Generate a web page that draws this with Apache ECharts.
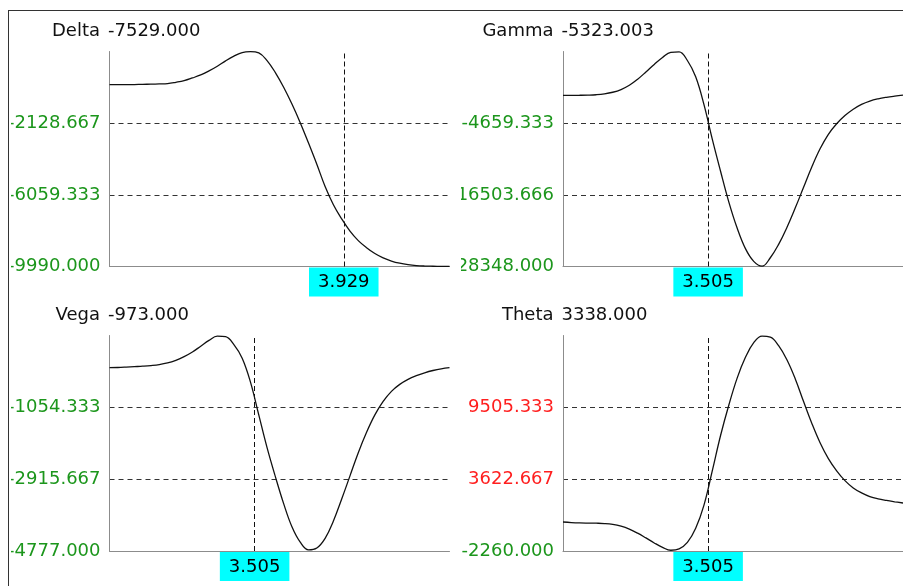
<!DOCTYPE html>
<html>
<head>
<meta charset="utf-8">
<script src="https://cdn.jsdelivr.net/npm/echarts@6/dist/echarts.min.js"></script>
<style>
  html, body { margin: 0; padding: 0; background: #fff; }
  #frame { position: absolute; left: 8px; top: 10px; width: 895px; height: 576px;
           border-top: 1px solid #333; border-left: 1px solid #333; }
  .panel { position: absolute; }
</style>
</head>
<body>
<div id="frame"></div>
<div id="p0" class="panel" style="left:11px;top:11px;width:448px;height:287px"></div>
<div id="p1" class="panel" style="left:461px;top:11px;width:442px;height:287px"></div>
<div id="p2" class="panel" style="left:11px;top:298px;width:448px;height:288px"></div>
<div id="p3" class="panel" style="left:461px;top:298px;width:442px;height:288px"></div>
<script>
// Underlying price grid shared by all four greek curves
const xs = [2.80, 2.84, 2.88, 2.92, 2.96, 3.00, 3.04, 3.08, 3.12, 3.16, 3.20, 3.24, 3.28, 3.32,
            3.36, 3.40, 3.44, 3.48, 3.52, 3.56, 3.60, 3.64, 3.68, 3.72, 3.76, 3.80, 3.84, 3.88,
            3.92, 3.96, 4.00, 4.04, 4.08, 4.12, 4.16, 4.20, 4.24, 4.28, 4.32, 4.36, 4.40, 4.44];

const deltaValues = [-16, -16, -16, -10, 0, 10, 22, 40, 112, 204, 351, 516, 737, 994,
                     1288, 1545, 1747, 1795, 1729, 1306, 645, -160, -1080, -2100, -3220, -4380, -5600, -6600,
                     -7380, -8050, -8570, -8960, -9280, -9520, -9690, -9810, -9890, -9940, -9965, -9975, -9980, -9982];

const gammaValues = [-60, -55, -45, -20, 40, 180, 450, 900, 1600, 2600, 3800, 5050, 6200, 7050,
                     7120, 5700, 3000, -1600, -7300, -12600, -17700, -22000, -25400, -27500, -28300, -26900, -24700, -21900,
                     -18700, -15300, -11900, -8900, -6500, -4750, -3400, -2350, -1550, -1000, -640, -390, -200, -40];

const vegaValues = [-27, -22, -12, 0, 12, 28, 52, 95, 165, 260, 380, 530, 680, 790,
                    775, 569, 220, -400, -1250, -2100, -2850, -3550, -4150, -4550, -4750, -4700, -4450, -4000,
                    -3430, -2830, -2230, -1700, -1250, -900, -640, -460, -330, -235, -160, -100, -55, -25];

const thetaValues = [115, 70, 40, 25, 15, -10, -80, -230, -470, -800, -1190, -1600, -1960, -2200,
                     -2090, -1560, -400, 1500, 4300, 7200, 9700, 11900, 13600, 14800, 15330, 15250, 14550, 13400,
                     11850, 10000, 8200, 6600, 5300, 4300, 3500, 2900, 2500, 2200, 2010, 1880, 1770, 1670];

const greekNames = ['Delta', 'Gamma', 'Vega', 'Theta'];
const readouts = ['-7529.000', '-5323.003', '-973.000', '3338.000'];
const cursorX = [3.929, 3.505, 3.505, 3.505];
const cursorLabels = ['3.929', '3.505', '3.505', '3.505'];
const axisMin = [-9990, -28348, -4777, -2260];
const axisMax = [1802, 7185.001, 807, 15388];
const seriesValues = [deltaValues, gammaValues, vegaValues, thetaValues];

// Plot-area placement inside each panel container
const layouts = [
  { gl: 98.5, gt: 40.5, gh: 215 },
  { gl: 102,  gt: 40.5, gh: 215 },
  { gl: 98.5, gt: 37.5, gh: 215.5 },
  { gl: 102,  gt: 37.5, gh: 215.5 }
];

const FONT = 'DejaVu Sans';
const GREEN = '#1c961c';
const RED = '#ff1f1f';

function buildOption(k) {
  const lo = axisMin[k], hi = axisMax[k];
  // a hair over a third of the range so the top tick never duplicates the axis end
  const step = (hi - lo) / 3 + 1e-9;
  const L = layouts[k];
  const values = seriesValues[k];
  return {
    animation: false,
    grid: { left: L.gl, top: L.gt, width: 340, height: L.gh, containLabel: false, outerBoundsMode: 'none' },
    xAxis: {
      type: 'value', min: 2.8, max: 4.44,
      axisLine: { onZero: false, lineStyle: { color: '#8c8c8c', width: 1 } },
      axisTick: { show: false }, axisLabel: { show: false }, splitLine: { show: false }
    },
    yAxis: {
      type: 'value', min: lo, max: hi, interval: step,
      axisLine: { show: true, onZero: false, lineStyle: { color: '#8c8c8c', width: 1 } },
      axisTick: { show: false },
      axisLabel: {
        show: true, margin: 9, fontSize: 18, fontFamily: FONT, showMaxLabel: false,
        formatter: v => (v > lo + step * 2.5) ? '' : Number(v).toFixed(3),
        color: s => (parseFloat(s) > 0 ? RED : GREEN)
      },
      splitLine: {
        show: true, showMinLine: false, showMaxLine: false,
        lineStyle: { type: [5, 4], color: '#333', width: 1 }
      }
    },
    graphic: [
      { type: 'text', x: L.gl - 9.5, y: L.gt - 20.5,
        style: { text: greekNames[k], font: '18px "DejaVu Sans"', fill: '#111', align: 'right', verticalAlign: 'middle' } },
      { type: 'text', x: L.gl - 1.5, y: L.gt - 20.5,
        style: { text: readouts[k], font: '18px "DejaVu Sans"', fill: '#111', align: 'left', verticalAlign: 'middle' } }
    ],
    series: [{
      type: 'line',
      data: xs.map((x, i) => [x, values[i]]),
      showSymbol: false, smooth: 0.4,
      lineStyle: { color: '#111', width: 1.3 },
      markLine: {
        silent: true, symbol: ['none', 'none'], animation: false,
        lineStyle: { type: [5, 3], color: '#111', width: 1 },
        label: {
          position: 'start', distance: 1, formatter: cursorLabels[k],
          backgroundColor: '#00ffff', color: '#000', fontSize: 18, fontFamily: FONT,
          padding: [6, 9, 5, 9]
        },
        data: [{ xAxis: cursorX[k] }]
      }
    }]
  };
}

for (let k = 0; k < 4; k++) {
  const chart = echarts.init(document.getElementById('p' + k), null, { renderer: 'canvas' });
  chart.setOption(buildOption(k));
}
</script>
</body>
</html>
